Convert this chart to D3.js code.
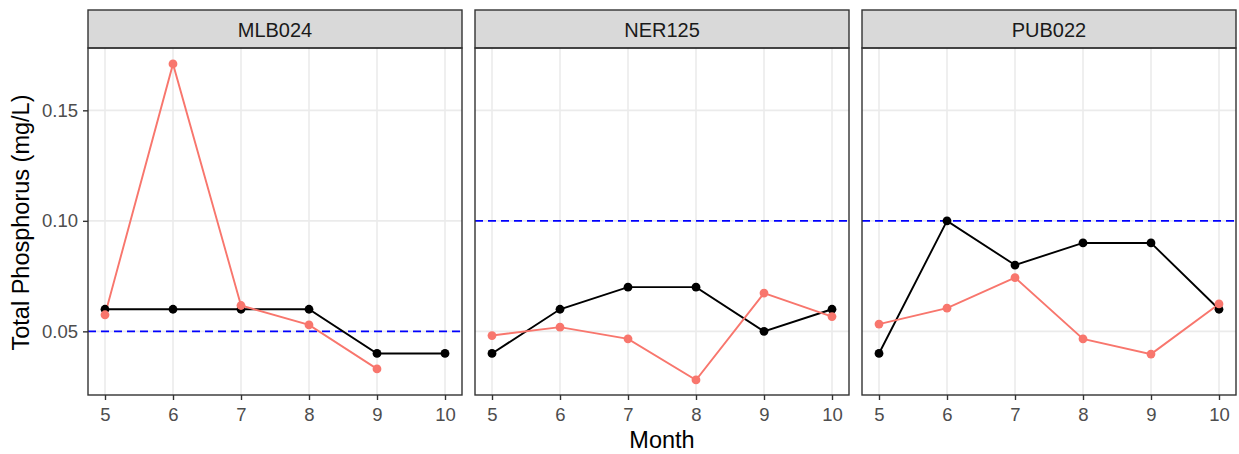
<!DOCTYPE html>
<html>
<head>
<meta charset="utf-8">
<script src="https://cdnjs.cloudflare.com/ajax/libs/d3/7.8.5/d3.min.js"></script>
<style>
  body { margin: 0; background: #fff; }
  text { font-family: "Liberation Sans", Arial, sans-serif; }
</style>
</head>
<body>
<svg id="chart" width="1239" height="454"></svg>
<script>
// ---------------------------
// Data
// ---------------------------
var sites = ["MLB024", "NER125", "PUB022"];
var months = [5, 6, 7, 8, 9, 10];
var blackValues = [
  [0.06, 0.06, 0.06, 0.06, 0.04, 0.04],
  [0.04, 0.06, 0.07, 0.07, 0.05, 0.06],
  [0.04, 0.10, 0.08, 0.09, 0.09, 0.06]
];
var redValues = [
  [0.0575, 0.171, 0.0617, 0.0529, 0.033, null],
  [0.0481, 0.0519, 0.0466, 0.028, 0.0673, 0.0567],
  [0.0533, 0.0605, 0.0743, 0.0466, 0.0397, 0.0624]
];
var limitValues = [0.05, 0.10, 0.10];
var yTicks = [0.05, 0.10, 0.15];
var xTicks = [5, 6, 7, 8, 9, 10];

// ---------------------------
// Constants
// ---------------------------
var panelLefts = [88, 475, 862];
var panelWidth = 374;
var stripTop = 10;
var panelTop = 48;
var panelBottom = 395;
var redColour = "#F8766D";
var gridColour = "#EBEBEB";
var borderColour = "#333333";
var tickFont = 18.5;

var svg = d3.select("#chart");

var x = d3.scaleLinear().domain([4.75, 10.25]).range([0, panelWidth]);
var y = d3.scaleLinear().domain([0.0212, 0.1782]).range([panelBottom, panelTop]);

var line = d3.line()
  .defined(function(d) { return d.v !== null; })
  .x(function(d) { return x(d.m); })
  .y(function(d) { return y(d.v); });

function pairs(vals) {
  return months.map(function(m, i) { return { m: m, v: vals[i] }; });
}

sites.forEach(function(site, p) {
  var g = svg.append("g").attr("transform", "translate(" + panelLefts[p] + ",0)");

  // grid
  g.selectAll(".gy").data(yTicks).enter().append("line")
    .attr("x1", 0).attr("x2", panelWidth)
    .attr("y1", function(d) { return y(d); }).attr("y2", function(d) { return y(d); })
    .attr("stroke", gridColour).attr("stroke-width", 1.6);
  g.selectAll(".gx").data(xTicks).enter().append("line")
    .attr("y1", panelTop).attr("y2", panelBottom)
    .attr("x1", function(d) { return x(d); }).attr("x2", function(d) { return x(d); })
    .attr("stroke", gridColour).attr("stroke-width", 1.6);

  // limit line
  g.append("line")
    .attr("x1", 0).attr("x2", panelWidth)
    .attr("y1", y(limitValues[p])).attr("y2", y(limitValues[p]))
    .attr("stroke", "blue").attr("stroke-width", 1.8)
    .attr("stroke-dasharray", "8,5");

  // lines
  g.append("path").datum(pairs(blackValues[p]))
    .attr("d", line).attr("fill", "none").attr("stroke", "black").attr("stroke-width", 1.9);
  g.append("path").datum(pairs(redValues[p]))
    .attr("d", line).attr("fill", "none").attr("stroke", redColour).attr("stroke-width", 1.9);

  // points
  g.selectAll(".pb").data(pairs(blackValues[p]).filter(function(d) { return d.v !== null; }))
    .enter().append("circle")
    .attr("cx", function(d) { return x(d.m); }).attr("cy", function(d) { return y(d.v); })
    .attr("r", 4.4).attr("fill", "black");
  g.selectAll(".pr").data(pairs(redValues[p]).filter(function(d) { return d.v !== null; }))
    .enter().append("circle")
    .attr("cx", function(d) { return x(d.m); }).attr("cy", function(d) { return y(d.v); })
    .attr("r", 4.4).attr("fill", redColour);

  // strip
  g.append("rect").attr("x", 0).attr("y", stripTop).attr("width", panelWidth)
    .attr("height", panelTop - stripTop).attr("fill", "#D9D9D9")
    .attr("stroke", borderColour).attr("stroke-width", 1.4);
  g.append("text").attr("x", panelWidth / 2).attr("y", 37)
    .attr("text-anchor", "middle").attr("font-size", 20).attr("fill", "#1A1A1A")
    .text(site);

  // panel border
  g.append("rect").attr("x", 0).attr("y", panelTop).attr("width", panelWidth)
    .attr("height", panelBottom - panelTop).attr("fill", "none")
    .attr("stroke", borderColour).attr("stroke-width", 1.4);

  // x axis
  var xa = g.append("g").attr("transform", "translate(0," + panelBottom + ")")
    .call(d3.axisBottom(x).tickValues(xTicks).tickSize(5).tickPadding(8).tickFormat(d3.format("d")));
  xa.select(".domain").remove();
  xa.selectAll("line").attr("stroke", borderColour).attr("stroke-width", 1.4);
  xa.selectAll("text").attr("font-size", tickFont).attr("fill", "#4D4D4D")
    .attr("font-family", "Liberation Sans, Arial, sans-serif");

  // y axis only on first panel
  if (p === 0) {
    var ya = g.append("g")
      .call(d3.axisLeft(y).tickValues(yTicks).tickSize(5).tickPadding(5).tickFormat(d3.format(".2f")));
    ya.select(".domain").remove();
    ya.selectAll("line").attr("stroke", borderColour).attr("stroke-width", 1.4);
    ya.selectAll("text").attr("font-size", tickFont).attr("fill", "#4D4D4D")
      .attr("font-family", "Liberation Sans, Arial, sans-serif");
  }
});

// axis titles
svg.append("text").attr("x", (panelLefts[0] + panelLefts[2] + panelWidth) / 2).attr("y", 448)
  .attr("text-anchor", "middle").attr("font-size", 23.5).attr("fill", "black").text("Month");
svg.append("text").attr("transform", "translate(29," + ((panelTop + panelBottom) / 2 + 1) + ") rotate(-90)")
  .attr("text-anchor", "middle").attr("font-size", 23.5).attr("fill", "black")
  .text("Total Phosphorus (mg/L)");
</script>
</body>
</html>
